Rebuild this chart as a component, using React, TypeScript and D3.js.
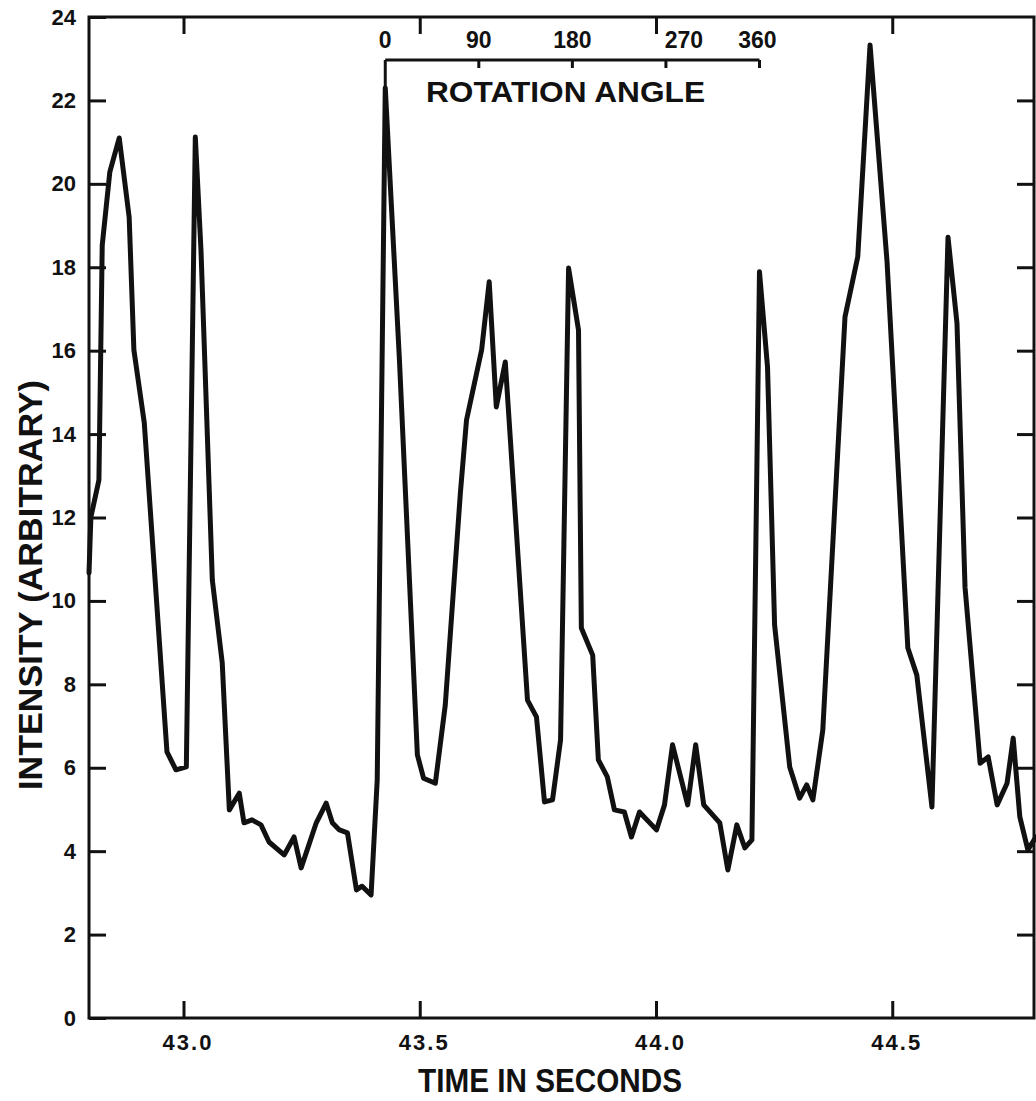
import React, { useEffect, useRef } from 'react';
import * as d3 from 'd3';

// time (s) and intensity
const time = [
  42.800, 42.804, 42.821, 42.828, 42.844, 42.864, 42.885, 42.895, 42.917, 42.965,
  42.984, 43.006, 43.025, 43.037, 43.061, 43.082, 43.097, 43.118, 43.128, 43.145,
  43.164, 43.181, 43.213, 43.234, 43.249, 43.281, 43.302, 43.315, 43.330, 43.347,
  43.366, 43.378, 43.397, 43.410, 43.427, 43.457, 43.495, 43.508, 43.533, 43.554,
  43.586, 43.599, 43.631, 43.647, 43.662, 43.681, 43.728, 43.747, 43.764, 43.781,
  43.798, 43.815, 43.836, 43.842, 43.866, 43.878, 43.897, 43.912, 43.933, 43.948,
  43.965, 44.001, 44.018, 44.035, 44.067, 44.084, 44.101, 44.135, 44.152, 44.171,
  44.188, 44.203, 44.219, 44.236, 44.251, 44.283, 44.304, 44.319, 44.332, 44.353,
  44.400, 44.427, 44.453, 44.489, 44.533, 44.552, 44.584, 44.618, 44.637, 44.654,
  44.686, 44.703, 44.722, 44.743, 44.756, 44.770, 44.787, 44.804
];
const intensity = [
  10.67, 12.01, 12.90, 18.53, 20.28, 21.10, 19.20, 16.02, 14.27, 6.38,
  5.95, 6.02, 21.12, 18.41, 10.50, 8.51, 4.99, 5.39, 4.68, 4.75,
  4.63, 4.22, 3.91, 4.34, 3.60, 4.68, 5.15, 4.68, 4.51, 4.44,
  3.07, 3.16, 2.95, 5.71, 22.30, 15.78, 6.31, 5.75, 5.63, 7.50,
  12.59, 14.34, 16.02, 17.65, 14.65, 15.73, 7.62, 7.22, 5.18, 5.23,
  6.67, 17.98, 16.49, 9.35, 8.70, 6.19, 5.78, 4.99, 4.94, 4.34,
  4.94, 4.51, 5.11, 6.55, 5.11, 6.55, 5.11, 4.68, 3.55, 4.63,
  4.08, 4.27, 17.89, 15.61, 9.42, 6.02, 5.27, 5.59, 5.23, 6.90,
  16.81, 18.25, 23.33, 18.13, 8.87, 8.22, 5.06, 18.72, 16.66, 10.33,
  6.11, 6.26, 5.11, 5.63, 6.71, 4.82, 4.03, 4.34
];

const timeTicks = [43.0, 43.5, 44.0, 44.5];
const intensityTicks = [0, 2, 4, 6, 8, 10, 12, 14, 16, 18, 20, 22, 24];
const angleTicks = [0, 90, 180, 270, 360];
// one rotation: from the peak at 43.427 s to the peak at 44.219 s
const rotationStart = 43.427;
const rotationEnd = 44.219;

const ink = '#111';
const font = "'Liberation Sans', Arial, sans-serif";

export default function App() {
  const ref = useRef<SVGSVGElement>(null);

  useEffect(() => {
    const svg = d3.select(ref.current);
    svg.selectAll('*').remove();

    const left = 89, right = 1034, top = 17, bottom = 1018;
    const tick = 17;

    const x = d3.scaleLinear().domain([42.8, 44.8]).range([left, right]);
    const y = d3.scaleLinear().domain([0, 24]).range([bottom, top]);

    // 坐标轴
    const styleAxis = (g: any) => {
      g.select('.domain').remove();
      g.selectAll('line').attr('stroke', ink).attr('stroke-width', 3);
      g.selectAll('text')
        .attr('fill', ink)
        .attr('font-family', font)
        .attr('font-weight', 'bold')
        .attr('font-size', 22);
    };

    svg.append('g')
      .attr('transform', `translate(${left},0)`)
      .call(d3.axisLeft(y).tickValues(intensityTicks).tickSize(-tick).tickSizeOuter(0).tickPadding(13))
      .call(styleAxis);
    svg.append('g')
      .attr('transform', `translate(${right},0)`)
      .call(d3.axisRight(y).tickValues(intensityTicks.slice(1, -1)).tickSize(-tick).tickSizeOuter(0).tickFormat(() => ''))
      .call(styleAxis);
    const xb = svg.append('g')
      .attr('transform', `translate(0,${bottom})`)
      .call(d3.axisBottom(x).tickValues(timeTicks).tickSize(-tick).tickSizeOuter(0).tickPadding(16)
        .tickFormat(d3.format('.1f')))
      .call(styleAxis);
    xb.selectAll('text').attr('letter-spacing', 2).attr('dx', 4);
    svg.append('g')
      .attr('transform', `translate(0,${top})`)
      .call(d3.axisTop(x).tickValues(timeTicks).tickSize(-tick).tickSizeOuter(0).tickFormat(() => ''))
      .call(styleAxis);

    // 边框
    svg.append('rect')
      .attr('x', left).attr('y', top)
      .attr('width', right - left).attr('height', bottom - top)
      .attr('fill', 'none').attr('stroke', ink).attr('stroke-width', 3);

    // 曲线
    const points: [number, number][] = time.map((t, i) => [t, intensity[i]]);
    const line = d3.line<[number, number]>().x(d => x(d[0])).y(d => y(d[1]));
    svg.append('path')
      .datum(points)
      .attr('d', line)
      .attr('fill', 'none')
      .attr('stroke', ink)
      .attr('stroke-width', 5)
      .attr('stroke-linejoin', 'round')
      .attr('stroke-linecap', 'round');

    // rotation angle bracket
    const a = d3.scaleLinear().domain([0, 360]).range([x(rotationStart), x(rotationEnd)]);
    const by = 60;
    const peak = intensity[time.indexOf(rotationStart)];
    const br = svg.append('g').attr('stroke', ink).attr('stroke-width', 3);
    br.append('line').attr('x1', a(0)).attr('x2', a(360)).attr('y1', by).attr('y2', by);
    br.append('line').attr('x1', a(0)).attr('x2', a(0)).attr('y1', by).attr('y2', y(peak));
    br.selectAll('.atick').data(angleTicks.slice(1)).enter()
      .append('line')
      .attr('x1', d => a(d)).attr('x2', d => a(d))
      .attr('y1', by).attr('y2', by + 8);
    svg.selectAll('.alabel').data(angleTicks).enter()
      .append('text')
      .attr('x', d => a(d) + (d === 270 ? 18 : d === 360 ? -2 : 0))
      .attr('y', 48)
      .attr('text-anchor', 'middle')
      .attr('fill', ink)
      .attr('font-family', font)
      .attr('font-weight', 'bold')
      .attr('font-size', 23)
      .text(d => d);
    svg.append('text')
      .attr('x', 426).attr('y', 102)
      .attr('textLength', 279).attr('lengthAdjust', 'spacingAndGlyphs')
      .attr('fill', ink).attr('font-family', font).attr('font-weight', 'bold').attr('font-size', 30)
      .text('ROTATION  ANGLE');

    // axis titles
    svg.append('text')
      .attr('x', 418).attr('y', 1092)
      .attr('textLength', 264).attr('lengthAdjust', 'spacingAndGlyphs')
      .attr('fill', ink).attr('font-family', font).attr('font-weight', 'bold').attr('font-size', 34)
      .text('TIME  IN  SECONDS');
    svg.append('text')
      .attr('transform', `translate(42,585) rotate(-90)`)
      .attr('text-anchor', 'middle')
      .attr('textLength', 410).attr('lengthAdjust', 'spacingAndGlyphs')
      .attr('fill', ink).attr('font-family', font).attr('font-weight', 'bold').attr('font-size', 33)
      .text('INTENSITY  (ARBITRARY)');
  }, []);

  return (
    <svg ref={ref} width={1036} height={1101}
      style={{ position: 'absolute', left: 0, top: 0, background: '#fff' }} />
  );
}
